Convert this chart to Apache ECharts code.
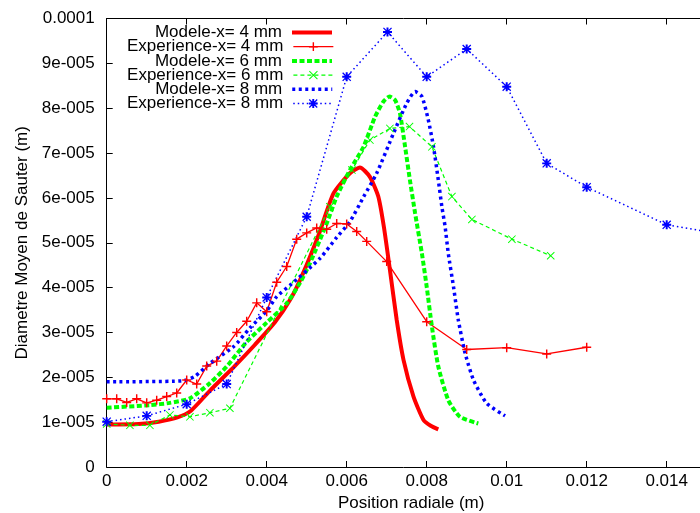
<!DOCTYPE html>
<html>
<head>
<meta charset="utf-8">
<script src="https://cdn.jsdelivr.net/npm/echarts@6/dist/echarts.min.js"></script>
<style>
  html, body { margin: 0; padding: 0; background: #fff; }
  #chart { width: 700px; height: 513px; }
</style>
</head>
<body>
<div id="chart"></div>
<script>
// x en m, y en unites de 1e-5 m
var modele4X = [0, 0.0008, 0.0013, 0.00175, 0.0021, 0.0026, 0.0032, 0.0037, 0.0042, 0.0046, 0.0049, 0.0053, 0.00567, 0.00608, 0.00633, 0.00658, 0.00679, 0.00693, 0.00708, 0.00725, 0.00742, 0.00767, 0.00792, 0.0081, 0.00829];
var modele4Y = [0.95, 0.96, 1.01, 1.10, 1.25, 1.72, 2.25, 2.72, 3.22, 3.75, 4.30, 5.18, 6.10, 6.55, 6.68, 6.47, 6.03, 5.35, 4.40, 3.28, 2.39, 1.57, 1.05, 0.92, 0.84];

var exp4X = [0, 0.00025, 0.0005, 0.00075, 0.001, 0.00125, 0.0015, 0.00175, 0.002, 0.00225, 0.0025, 0.00275, 0.003, 0.00325, 0.0035, 0.00375, 0.004, 0.00425, 0.0045, 0.00475, 0.005, 0.00525, 0.0055, 0.00575, 0.006, 0.00625, 0.0065, 0.007, 0.008, 0.009, 0.01, 0.011, 0.012];
var exp4Y = [1.52, 1.52, 1.44, 1.52, 1.43, 1.49, 1.57, 1.65, 1.94, 1.85, 2.25, 2.36, 2.70, 3.00, 3.25, 3.66, 3.46, 4.12, 4.47, 5.08, 5.22, 5.33, 5.30, 5.43, 5.42, 5.25, 5.03, 4.58, 3.24, 2.62, 2.66, 2.52, 2.67];

var modele6X = [0, 0.00108, 0.00158, 0.00208, 0.00258, 0.003, 0.0035, 0.004, 0.0045, 0.00483, 0.00508, 0.0055, 0.00575, 0.00608, 0.00642, 0.00671, 0.00692, 0.00707, 0.00721, 0.00733, 0.00746, 0.00758, 0.00771, 0.00788, 0.008, 0.00813, 0.00829, 0.00854, 0.00883, 0.00929];
var modele6Y = [1.32, 1.38, 1.43, 1.53, 1.87, 2.24, 2.79, 3.22, 3.65, 4.10, 4.54, 5.43, 6.03, 6.62, 7.14, 7.81, 8.15, 8.26, 8.18, 7.89, 7.14, 6.40, 5.66, 4.76, 4.02, 3.13, 2.24, 1.49, 1.12, 0.97];

var exp6X = [0, 0.00058, 0.00108, 0.00158, 0.00208, 0.00258, 0.00308, 0.00558, 0.00613, 0.00658, 0.00708, 0.00757, 0.00813, 0.00863, 0.00913, 0.01013, 0.0111];
var exp6Y = [0.96, 0.93, 0.93, 1.16, 1.12, 1.21, 1.31, 5.80, 6.62, 7.29, 7.55, 7.59, 7.14, 6.03, 5.52, 5.08, 4.71];

var modele8X = [0, 0.0019, 0.0022, 0.00258, 0.00317, 0.00358, 0.004, 0.00425, 0.00458, 0.00533, 0.00575, 0.00608, 0.00642, 0.00675, 0.00717, 0.0075, 0.00771, 0.00788, 0.00804, 0.00817, 0.00829, 0.00838, 0.00846, 0.00854, 0.00867, 0.00879, 0.00896, 0.00917, 0.0095, 0.00996];
var modele8Y = [1.90, 1.92, 2.02, 2.31, 2.68, 3.10, 3.48, 3.80, 4.05, 4.65, 5.12, 5.47, 6.02, 6.55, 7.44, 8.11, 8.37, 8.26, 7.74, 7.14, 6.40, 5.80, 5.36, 4.76, 4.02, 3.28, 2.54, 1.94, 1.42, 1.14];

var exp8X = [0, 0.001, 0.002, 0.003, 0.004, 0.005, 0.006, 0.00702, 0.008, 0.009, 0.01, 0.011, 0.012, 0.014, 0.016];
var exp8Y = [1.01, 1.14, 1.40, 1.85, 3.78, 5.58, 8.70, 9.70, 8.70, 9.32, 8.48, 6.77, 6.24, 5.40, 5.10];

var noms = ['Modele-x= 4 mm', 'Experience-x= 4 mm', 'Modele-x= 6 mm', 'Experience-x= 6 mm', 'Modele-x= 8 mm', 'Experience-x= 8 mm'];

var ROUGE = '#ff0000', VERT = '#00ff00', BLEU = '#0000ff';
var FONT = '"Liberation Sans", Arial, sans-serif';

// symboles facon gnuplot
var symPlus = 'path://M4.2,0H5.8V4.2H10V5.8H5.8V10H4.2V5.8H0V4.2H4.2Z';
var symCroix = 'path://M0.8,0L10,9.2L9.2,10L0,0.8ZM9.2,0L10,0.8L0.8,10L0,9.2Z';
var symEtoile = 'path://M3.9,0H6.1V3.9H10V6.1H6.1V10H3.9V6.1H0V3.9H3.9ZM1,0L10,9L9,10L0,1ZM9,0L10,1L1,10L0,9Z';

function paires(xs, ys) {
  return xs.map(function (x, i) { return [x, ys[i] * 1e-5]; });
}

function fmtY(v) {
  var k = Math.round(v * 1e5);
  if (k === 0) return '0';
  if (k === 10) return '0.0001';
  return k + 'e-005';
}

var chart = echarts.init(document.getElementById('chart'), null, { renderer: 'canvas' });

// une legende par ligne, texte cale a droite
var legendes = noms.map(function (n, i) {
  var modele = n.indexOf('Modele') === 0;
  return {
    data: [n],
    orient: 'vertical',
    align: 'right',
    right: 366,
    top: 24 + i * 14.2,
    padding: 0,
    itemWidth: 40,
    itemHeight: 11,
    selectedMode: false,
    itemStyle: modele ? { opacity: 0 } : {},
    lineStyle: { width: 'inherit' },
    textStyle: { fontSize: 17, color: '#000', fontFamily: FONT, padding: [0, 5, 0, 0] }
  };
});

var option = {
  animation: false,
  backgroundColor: '#fff',
  legend: legendes,
  grid: { left: 106.7, right: -46.7, top: 18.5, bottom: 46, containLabel: false, outerBoundsMode: 'none' },
  xAxis: [{
    type: 'value',
    min: 0, max: 0.016, interval: 0.002,
    name: 'Position radiale (m)',
    nameLocation: 'middle',
    nameGap: 26,
    nameTextStyle: { fontSize: 17, color: '#000', fontFamily: FONT, padding: [0, 31, 0, 0] },
    axisLine: { lineStyle: { color: '#000', width: 1 } },
    axisTick: { inside: true, length: 6, lineStyle: { color: '#000' } },
    axisLabel: {
      fontSize: 17, color: '#000', fontFamily: FONT, margin: 6,
      formatter: function (v) { return String(parseFloat(v.toFixed(4))); }
    },
    splitLine: { show: false }
  }, {
    type: 'value', position: 'top',
    min: 0, max: 0.016, interval: 0.002,
    axisLine: { lineStyle: { color: '#000', width: 1 } },
    axisTick: { inside: true, length: 6, lineStyle: { color: '#000' } },
    axisLabel: { show: false },
    splitLine: { show: false }
  }],
  yAxis: {
    type: 'value',
    min: 0, max: 0.0001, interval: 0.00001,
    name: 'Diametre Moyen de Sauter (m)',
    nameLocation: 'middle',
    nameGap: 74,
    nameTextStyle: { fontSize: 17, color: '#000', fontFamily: FONT },
    axisLine: { show: true, lineStyle: { color: '#000', width: 1 } },
    axisTick: { show: true, inside: true, length: 6, lineStyle: { color: '#000' } },
    axisLabel: { fontSize: 17, color: '#000', fontFamily: FONT, margin: 12, formatter: fmtY },
    splitLine: { show: false }
  },
  series: [{
    name: noms[0], type: 'line', data: paires(modele4X, modele4Y),
    symbol: 'none', smooth: 0.2, clip: true,
    itemStyle: { color: ROUGE },
    lineStyle: { color: ROUGE, width: 4 }
  }, {
    name: noms[1], type: 'line', data: paires(exp4X, exp4Y),
    symbol: symPlus, symbolSize: 9, clip: true,
    itemStyle: { color: ROUGE },
    lineStyle: { color: ROUGE, width: 1.3 }
  }, {
    name: noms[2], type: 'line', data: paires(modele6X, modele6Y),
    symbol: 'none', smooth: 0.2, clip: true,
    itemStyle: { color: VERT },
    lineStyle: { color: VERT, width: 4, type: [5, 2.5] }
  }, {
    name: noms[3], type: 'line', data: paires(exp6X, exp6Y),
    symbol: symCroix, symbolSize: 8, clip: true,
    itemStyle: { color: VERT },
    lineStyle: { color: VERT, width: 1.2, type: [4, 3] }
  }, {
    name: noms[4], type: 'line', data: paires(modele8X, modele8Y),
    symbol: 'none', smooth: 0.2, clip: true,
    itemStyle: { color: BLEU },
    lineStyle: { color: BLEU, width: 3.5, type: [3, 3.5] }
  }, {
    name: noms[5], type: 'line', data: paires(exp8X, exp8Y),
    symbol: symEtoile, symbolSize: 9, clip: true,
    itemStyle: { color: BLEU },
    lineStyle: { color: BLEU, width: 1.5, type: [1.5, 3] }
  }]
};

chart.setOption(option);
</script>
</body>
</html>
